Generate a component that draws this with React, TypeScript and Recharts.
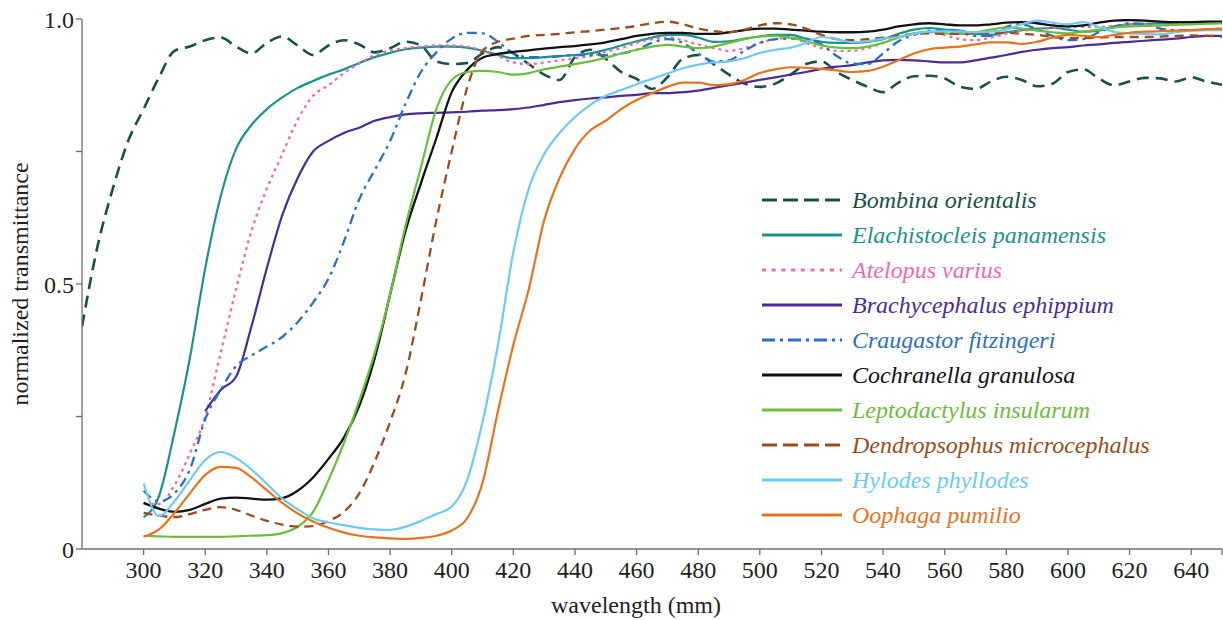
import { Label, Line, LineChart, XAxis, YAxis } from "recharts";

const SERIF = '"Liberation Serif", "Times New Roman", serif';
const AXIS = "#6e6e6e";

// sampling grid, nm (280..650 every 5)
const wavelengths = Array.from({ length: 75 }, (_, i) => 280 + i * 5);
const xTicks = [300, 320, 340, 360, 380, 400, 420, 440, 460, 480, 500, 520, 540, 560, 580, 600, 620, 640, 650];
const yTicks = [0, 0.25, 0.5, 0.75, 1];

const bombina = [
  0.42, 0.57, 0.68, 0.77, 0.83, 0.89, 0.94, 0.948,
  0.96, 0.965, 0.948, 0.935, 0.955, 0.967, 0.95, 0.932,
  0.95, 0.96, 0.952, 0.937, 0.945, 0.957, 0.95, 0.92,
  0.915, 0.917, 0.935, 0.947, 0.935, 0.915, 0.895, 0.885,
  0.928, 0.942, 0.925, 0.9, 0.887, 0.868, 0.89, 0.925,
  0.932, 0.915, 0.895, 0.878, 0.872, 0.878, 0.895, 0.915,
  0.92, 0.9, 0.885, 0.872, 0.862, 0.88, 0.892, 0.893,
  0.888, 0.872, 0.868, 0.882, 0.891, 0.885, 0.873, 0.878,
  0.9, 0.905, 0.888, 0.875, 0.882, 0.889, 0.888, 0.882,
  0.89, 0.882, 0.876,
];
const elachistocleis = [
  null, null, null, null, 0.06, 0.1, 0.22, 0.36,
  0.53, 0.665, 0.755, 0.8, 0.83, 0.852, 0.87, 0.883,
  0.895, 0.905, 0.917, 0.928, 0.936, 0.943, 0.946, 0.948,
  0.948, 0.946, 0.94, 0.932, 0.926, 0.926, 0.928, 0.93,
  0.932, 0.935, 0.942, 0.95, 0.958, 0.965, 0.97, 0.97,
  0.965, 0.957, 0.958, 0.963, 0.967, 0.97, 0.97, 0.963,
  0.957, 0.955, 0.955, 0.957, 0.962, 0.972, 0.98, 0.983,
  0.98, 0.978, 0.972, 0.97, 0.975, 0.979, 0.982, 0.983,
  0.98, 0.976, 0.978, 0.986, 0.99, 0.991, 0.992, 0.992,
  0.992, 0.992, 0.992,
];
const atelopus = [
  null, null, null, null, 0.085, 0.085, 0.12, 0.18,
  0.25, 0.37, 0.49, 0.6, 0.68, 0.745, 0.81, 0.855,
  0.875, 0.898, 0.916, 0.932, 0.94, 0.945, 0.948, 0.95,
  0.95, 0.948, 0.94, 0.93, 0.918, 0.915, 0.918, 0.922,
  0.926, 0.93, 0.938, 0.945, 0.955, 0.962, 0.965, 0.96,
  0.952, 0.945, 0.94, 0.945, 0.955, 0.962, 0.965, 0.955,
  0.945, 0.94, 0.94, 0.945, 0.955, 0.965, 0.972, 0.975,
  0.97, 0.962, 0.96, 0.965, 0.972, 0.978, 0.98, 0.983,
  0.985, 0.985, 0.985, 0.987, 0.99, 0.99, 0.988, 0.99,
  0.992, 0.993, 0.993,
];
const brachycephalus = [
  null, null, null, null, null, null, null, null,
  0.26, 0.3, 0.325, 0.42, 0.53, 0.63, 0.7, 0.75,
  0.77, 0.785, 0.795, 0.808, 0.815, 0.82, 0.822, 0.823,
  0.824, 0.825, 0.827, 0.828, 0.83, 0.833, 0.838, 0.843,
  0.847, 0.85, 0.852, 0.855, 0.857, 0.86, 0.86, 0.862,
  0.865, 0.87, 0.875, 0.88, 0.885, 0.89, 0.895, 0.9,
  0.906, 0.91, 0.913, 0.918, 0.922, 0.923, 0.922, 0.92,
  0.918, 0.918, 0.922, 0.927, 0.932, 0.938, 0.942, 0.945,
  0.947, 0.95, 0.952, 0.955, 0.957, 0.959, 0.961, 0.963,
  0.966, 0.968, 0.968,
];
const craugastor = [
  null, null, null, null, 0.11, 0.09, 0.105, 0.15,
  0.245, 0.3, 0.345, 0.365, 0.382, 0.4, 0.428, 0.465,
  0.51, 0.58, 0.66, 0.715, 0.77, 0.84, 0.9, 0.937,
  0.963, 0.974, 0.973, 0.957, 0.935, 0.928, 0.928, 0.93,
  0.932, 0.932, 0.932, 0.935, 0.942, 0.955, 0.962, 0.955,
  0.935, 0.92, 0.922, 0.94, 0.955, 0.962, 0.963, 0.962,
  0.952, 0.93, 0.916, 0.915, 0.935, 0.958, 0.97, 0.978,
  0.977, 0.974, 0.968, 0.968, 0.985, 0.99, 0.98, 0.968,
  0.96, 0.962, 0.975, 0.985, 0.992, 0.99, 0.982, 0.979,
  0.979, 0.98, 0.982,
];
const cochranella = [
  null, null, null, null, 0.087, 0.076, 0.07, 0.074,
  0.085, 0.095, 0.097, 0.095, 0.093, 0.096, 0.11, 0.135,
  0.17, 0.21, 0.27, 0.36, 0.48, 0.6, 0.69, 0.775,
  0.862, 0.904, 0.927, 0.934, 0.938, 0.941, 0.944, 0.947,
  0.949, 0.952, 0.956, 0.962, 0.968, 0.972, 0.974, 0.974,
  0.972, 0.972, 0.975, 0.979, 0.982, 0.982, 0.98, 0.978,
  0.976, 0.975, 0.975, 0.976, 0.98, 0.986, 0.99, 0.992,
  0.99, 0.988, 0.988, 0.99, 0.993, 0.994, 0.992, 0.988,
  0.986, 0.988, 0.993, 0.997, 0.998, 0.997, 0.995, 0.994,
  0.994, 0.995, 0.995,
];
const leptodactylus = [
  null, null, null, null, 0.025, 0.024, 0.023, 0.023,
  0.023, 0.023, 0.024, 0.025, 0.026, 0.03, 0.042, 0.07,
  0.13, 0.2, 0.28, 0.37, 0.48, 0.61, 0.72, 0.83,
  0.885, 0.9, 0.902, 0.9, 0.895, 0.898, 0.905, 0.91,
  0.915, 0.92, 0.927, 0.935, 0.942, 0.948, 0.951, 0.948,
  0.945, 0.948, 0.955, 0.962, 0.967, 0.968, 0.965, 0.958,
  0.95, 0.946, 0.945, 0.948, 0.955, 0.965, 0.973, 0.976,
  0.973, 0.972, 0.975, 0.98, 0.984, 0.982, 0.978, 0.975,
  0.973, 0.976, 0.98, 0.984, 0.986, 0.987, 0.988, 0.989,
  0.99, 0.991, 0.992,
];
const dendropsophus = [
  null, null, null, null, 0.068, 0.063, 0.06, 0.066,
  0.074, 0.079, 0.074, 0.063, 0.053, 0.046, 0.042, 0.043,
  0.053, 0.07, 0.105, 0.165, 0.24, 0.33, 0.47, 0.62,
  0.75, 0.87, 0.94, 0.957, 0.963, 0.968, 0.97, 0.972,
  0.975, 0.977, 0.98, 0.983, 0.987, 0.992, 0.995, 0.99,
  0.982, 0.977, 0.975, 0.98, 0.988, 0.992, 0.99, 0.982,
  0.97, 0.962, 0.96, 0.962, 0.965, 0.968, 0.972, 0.973,
  0.972, 0.972, 0.973, 0.974, 0.974, 0.972, 0.97, 0.966,
  0.964, 0.964, 0.965, 0.966, 0.966, 0.966, 0.967, 0.968,
  0.969, 0.968, 0.967,
];
const hylodes = [
  null, null, null, null, 0.124, 0.062, 0.09, 0.13,
  0.168, 0.183, 0.172, 0.15, 0.123, 0.095, 0.075, 0.058,
  0.05, 0.045, 0.04, 0.037, 0.036, 0.042, 0.053, 0.066,
  0.08, 0.13, 0.24, 0.385, 0.56, 0.68, 0.745, 0.785,
  0.815, 0.838, 0.855, 0.866, 0.877, 0.887, 0.897, 0.907,
  0.914, 0.918, 0.92, 0.926, 0.936, 0.942, 0.946, 0.955,
  0.966, 0.962, 0.956, 0.958, 0.963, 0.966, 0.972, 0.976,
  0.977, 0.976, 0.975, 0.976, 0.98, 0.99, 0.997, 0.993,
  0.99, 0.994, 0.985, 0.976, 0.973, 0.972, 0.971, 0.975,
  0.978, 0.979, 0.979,
];
const oophaga = [
  null, null, null, null, 0.023, 0.037, 0.068, 0.105,
  0.14, 0.155, 0.153, 0.135, 0.111, 0.087, 0.067, 0.052,
  0.04, 0.031, 0.025, 0.022, 0.02, 0.019, 0.021, 0.025,
  0.035, 0.058, 0.125, 0.26, 0.385, 0.49, 0.62, 0.7,
  0.755, 0.79, 0.808, 0.83, 0.847, 0.86, 0.872, 0.88,
  0.88, 0.875, 0.877, 0.885, 0.898, 0.905, 0.909, 0.908,
  0.906, 0.903, 0.9, 0.902, 0.91, 0.922, 0.935, 0.943,
  0.946, 0.948, 0.952, 0.956, 0.956, 0.953, 0.957, 0.965,
  0.97, 0.968, 0.966, 0.97, 0.974, 0.976, 0.977, 0.978,
  0.979, 0.981, 0.982,
];

const SERIES = [
  { key: "bombina", name: "Bombina orientalis", color: "#1c4f48", dash: "12 7", legendDash: "15 6", width: 2.6, values: bombina },
  { key: "elachistocleis", name: "Elachistocleis panamensis", color: "#1b938b", dash: undefined, legendDash: undefined, width: 2.2, values: elachistocleis },
  { key: "atelopus", name: "Atelopus varius", color: "#f06aa8", dash: "3 4", legendDash: "4 5.7", width: 2.3, values: atelopus },
  { key: "brachycephalus", name: "Brachycephalus ephippium", color: "#4a2c97", dash: undefined, legendDash: undefined, width: 2.2, values: brachycephalus },
  { key: "craugastor", name: "Craugastor fitzingeri", color: "#2d6fc6", dash: "10 5 3 5", legendDash: "13 5 3 5", width: 2.3, values: craugastor },
  { key: "cochranella", name: "Cochranella granulosa", color: "#111111", dash: undefined, legendDash: undefined, width: 2.3, values: cochranella },
  { key: "leptodactylus", name: "Leptodactylus insularum", color: "#6bbd3b", dash: undefined, legendDash: undefined, width: 2.2, values: leptodactylus },
  { key: "dendropsophus", name: "Dendropsophus microcephalus", color: "#9a4d20", dash: "9 6", legendDash: "15 6", width: 2.3, values: dendropsophus },
  { key: "hylodes", name: "Hylodes phyllodes", color: "#6ecaf4", dash: undefined, legendDash: undefined, width: 2.2, values: hylodes },
  { key: "oophaga", name: "Oophaga pumilio", color: "#e8721d", dash: undefined, legendDash: undefined, width: 2.2, values: oophaga },
];

const rows = wavelengths.map((w, i) => {
  const r: Record<string, number | null> = { w };
  SERIES.forEach((s) => { r[s.key] = s.values[i] ?? null; });
  return r;
});

function yTickLabel(v: number) {
  if (v === 1) return "1.0";
  if (v === 0.5) return "0.5";
  if (v === 0) return "0";
  return "";
}

function LegendBlock() {
  return (
    <div style={{ position: "absolute", left: 762, top: 182.5, fontFamily: SERIF, fontStyle: "italic", fontSize: 24 }}>
      {SERIES.map((s) => (
        <div key={s.key} style={{ height: 35, display: "flex", alignItems: "center" }}>
          <svg width={80} height={6} style={{ display: "block" }}>
            <line x1={0} y1={3} x2={80} y2={3} stroke={s.color} strokeWidth={3.2} strokeDasharray={s.legendDash} />
          </svg>
          <span style={{ marginLeft: 10, color: s.color, lineHeight: 1, whiteSpace: "nowrap" }}>{s.name}</span>
        </div>
      ))}
    </div>
  );
}

export default function App() {
  const tickStyle = { fontFamily: SERIF, fontSize: 24, fill: "#231f20" };
  return (
    <div style={{ position: "relative", width: 1223, height: 620, background: "#fff", fontFamily: SERIF }}>
      <style>{"body{margin:0}"}</style>
      <LineChart width={1223} height={620} data={rows} margin={{ top: 19, right: 1, bottom: 0, left: 0 }}>
        <XAxis
          dataKey="w"
          type="number"
          domain={[280, 650]}
          ticks={xTicks}
          tickFormatter={(v: number) => (v === 650 ? "" : String(v))}
          height={71}
          tickSize={6}
          tickMargin={6}
          tick={tickStyle}
          stroke={AXIS}
          strokeWidth={1.3}
          allowDataOverflow
        >
          <Label
            content={() => (
              <text x={636} y={613} textAnchor="middle" fontFamily={SERIF} fontSize={24} fill="#231f20">
                wavelength (mm)
              </text>
            )}
          />
        </XAxis>
        <YAxis
          type="number"
          domain={[0, 1]}
          ticks={yTicks}
          tickFormatter={yTickLabel}
          width={82}
          tickSize={6}
          tickMargin={2}
          tick={tickStyle}
          stroke={AXIS}
          strokeWidth={1.3}
          allowDataOverflow
        >
          <Label
            content={() => (
              <text x={28} y={284} transform="rotate(-90 28 284)" textAnchor="middle" fontFamily={SERIF} fontSize={24} fill="#231f20">
                normalized transmittance
              </text>
            )}
          />
        </YAxis>
        {SERIES.map((s) => (
          <Line
            key={s.key}
            dataKey={s.key}
            name={s.name}
            type="monotone"
            stroke={s.color}
            strokeWidth={s.width}
            strokeDasharray={s.dash}
            dot={false}
            activeDot={false}
            isAnimationActive={false}
          />
        ))}
      </LineChart>
      <LegendBlock />
    </div>
  );
}
